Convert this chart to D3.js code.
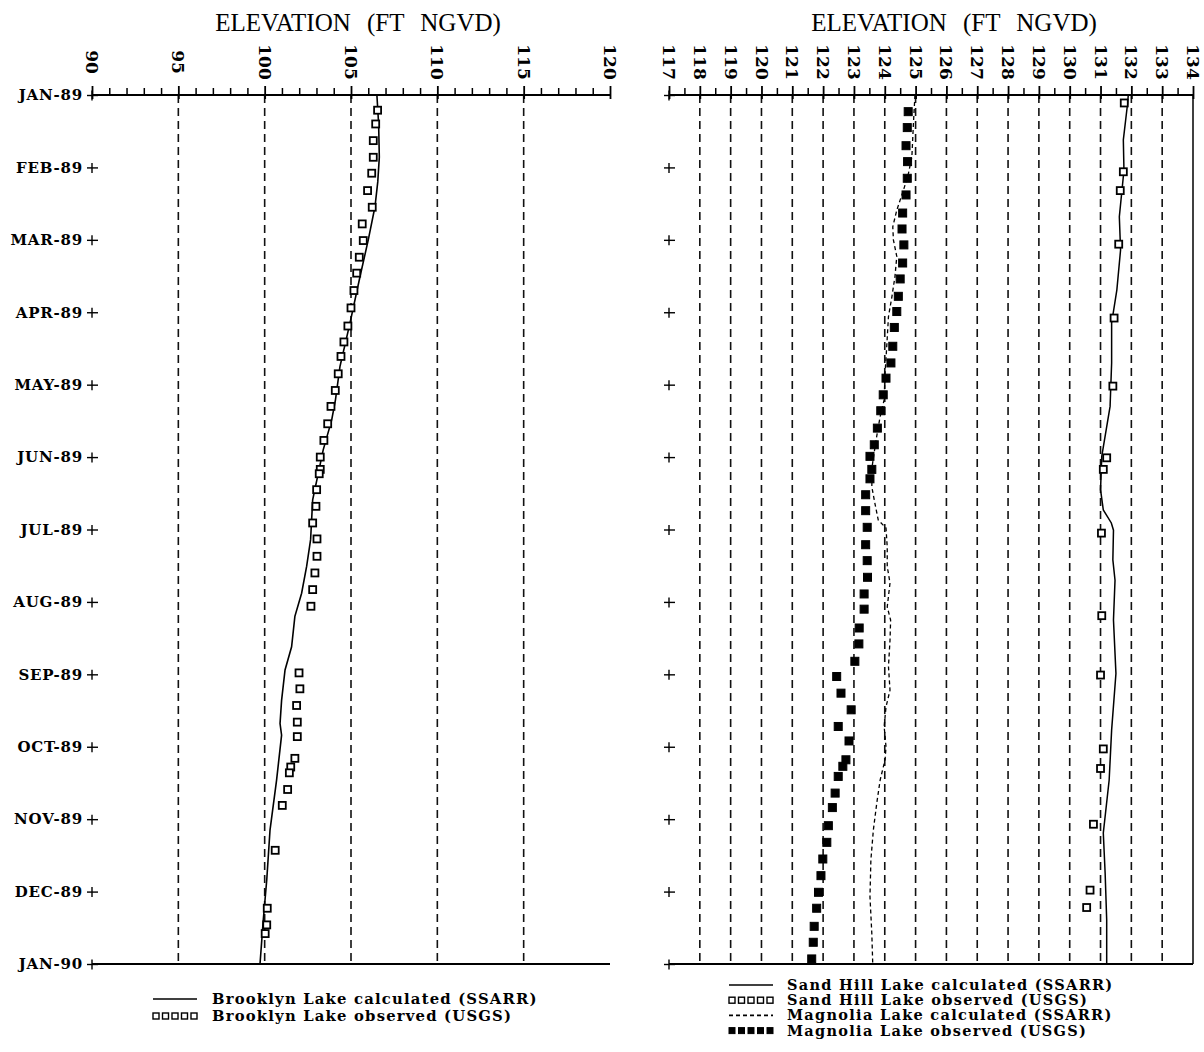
<!DOCTYPE html>
<html>
<head>
<meta charset="utf-8">
<script src="https://cdn.jsdelivr.net/npm/d3@7/dist/d3.min.js"></script>
<style>
body { margin: 0; background: #fff; }
</style>
</head>
<body>
<div id="chart"></div>
<script>
var width = 1204, height = 1052;

var months = ["JAN-89","FEB-89","MAR-89","APR-89","MAY-89","JUN-89","JUL-89",
              "AUG-89","SEP-89","OCT-89","NOV-89","DEC-89","JAN-90"];

var leftTicks = [90, 95, 100, 105, 110, 115, 120];
var leftGrid = [95, 100, 105, 110, 115];
var rightTicks = d3.range(117, 135);
var rightGrid = d3.range(118, 134);

// [month position, elevation ft]
var brooklynCalc = [[0,106.5],[0.4,106.6],[0.86,106.64],[1.2,106.55],[1.54,106.39],[2.0,106.0],[2.51,105.52],
  [3.15,104.94],[3.75,104.36],[4.21,104.1],[4.49,103.88],[4.9,103.39],[5.59,102.78],[6.14,102.66],[6.51,102.43],
  [6.88,102.14],[7.2,101.75],[7.62,101.56],[7.94,101.18],[8.36,100.98],[8.68,100.89],[8.84,100.98],[9.46,100.69],
  [10.15,100.31],[10.84,100.12],[11.39,99.92],[12,99.73]];

var brooklynObs = [[0.21,106.54],[0.4,106.43],[0.63,106.29],[0.86,106.29],[1.08,106.2],[1.32,105.96],[1.55,106.23],
  [1.78,105.65],[2.01,105.71],[2.24,105.48],[2.46,105.33],[2.7,105.17],[2.94,105.0],[3.19,104.82],[3.41,104.59],
  [3.61,104.42],[3.85,104.26],[4.08,104.09],[4.3,103.84],[4.54,103.65],[4.77,103.43],[5.0,103.22],[5.17,103.22],
  [5.23,103.16],[5.45,103.01],[5.68,102.97],[5.91,102.78],[6.13,103.03],[6.37,103.03],[6.6,102.91],[6.83,102.78],
  [7.06,102.68],[7.98,101.99],[8.2,102.04],[8.43,101.85],[8.66,101.89],[8.86,101.89],[9.16,101.75],[9.28,101.51],
  [9.36,101.43],[9.59,101.33],[9.81,101.02],[10.43,100.61],[11.23,100.15],[11.46,100.12],[11.58,100.03]];

var sandCalc = [[0,131.9],[0.11,131.88],[0.62,131.74],[1.04,131.76],[1.68,131.61],[2.14,131.65],[2.69,131.53],
  [3.15,131.36],[3.7,131.36],[4.3,131.31],[4.99,131.04],[5.45,131.0],[5.73,131.09],[5.91,131.35],[6.01,131.42],
  [6.42,131.4],[6.7,131.47],[7.25,131.42],[7.99,131.5],[8.77,131.36],[9.46,131.28],[10.19,131.09],[10.75,131.15],
  [11.39,131.2],[12,131.2]];

var sandObs = [[0.11,131.77],[1.06,131.74],[1.32,131.64],[2.06,131.59],[3.08,131.44],[4.02,131.4],[5.01,131.2],
  [5.17,131.09],[6.05,131.03],[7.19,131.04],[8.01,131.0],[9.03,131.09],[9.3,131.0],[10.07,130.77],[10.98,130.66],
  [11.22,130.55]];

var magCalc = [[0,124.98],[0.39,124.93],[0.85,124.88],[1.08,124.77],[1.31,124.61],[1.59,124.39],[1.82,124.26],
  [2.0,124.28],[2.23,124.39],[2.51,124.33],[2.79,124.23],[3.06,124.12],[3.43,124.07],[3.84,124.01],[4.21,123.98],
  [4.44,123.85],[4.76,123.72],[5.13,123.59],[5.41,123.58],[5.64,123.68],[5.87,123.79],[5.98,124.04],[6.24,124.08],
  [6.51,124.08],[6.74,124.17],[7.07,124.08],[7.25,124.19],[7.53,124.17],[7.89,124.12],[8.22,124.17],[8.45,124.04],
  [8.72,123.98],[9.0,124.04],[9.18,124.01],[9.46,123.85],[9.78,123.74],[10.15,123.63],[10.56,123.55],[11.07,123.52],
  [11.58,123.58],[12,123.61]];

var magObs = [[0.23,124.76],[0.45,124.73],[0.7,124.69],[0.92,124.74],[1.15,124.73],[1.38,124.69],[1.63,124.58],
  [1.85,124.56],[2.07,124.62],[2.32,124.58],[2.54,124.5],[2.78,124.44],[2.99,124.39],[3.21,124.31],[3.47,124.26],
  [3.7,124.2],[3.91,124.04],[4.14,123.95],[4.36,123.87],[4.6,123.76],[4.83,123.66],[4.99,123.52],[5.17,123.58],
  [5.3,123.52],[5.52,123.38],[5.74,123.38],[5.97,123.43],[6.21,123.38],[6.43,123.43],[6.66,123.44],[6.89,123.33],
  [7.1,123.33],[7.36,123.17],[7.58,123.16],[7.82,123.03],[8.03,122.44],[8.26,122.58],[8.49,122.91],[8.72,122.49],
  [8.92,122.84],[9.18,122.74],[9.27,122.64],[9.41,122.49],[9.64,122.39],[9.84,122.3],[10.09,122.17],[10.32,122.12],
  [10.55,121.99],[10.78,121.93],[11.01,121.85],[11.23,121.79],[11.48,121.71],[11.7,121.68],[11.93,121.63]];

var leftLegend = ["Brooklyn Lake calculated (SSARR)", "Brooklyn Lake observed (USGS)"];
var rightLegend = ["Sand Hill Lake calculated (SSARR)", "Sand Hill Lake observed (USGS)",
                   "Magnolia Lake calculated (SSARR)", "Magnolia Lake observed (USGS)"];

var labelFont = "'DejaVu Serif', serif";

var svg = d3.select("#chart").append("svg")
  .attr("width", width)
  .attr("height", height)
  .style("background", "#fff");

var y = d3.scaleLinear().domain([0, 12]).range([95, 964]);
var xL = d3.scaleLinear().domain([90, 120]).range([92, 610]);
var xR = d3.scaleLinear().domain([117, 134]).range([669, 1193]);

function drawPanel(x, majors, minorStep, grid, showMonths, rightBorder, titleX) {
  var g = svg.append("g");
  var x0 = x.range()[0], x1 = x.range()[1];
  var top = y(0), bot = y(12);

  // dashed grid lines
  g.selectAll(".grid").data(grid).enter().append("line")
    .attr("x1", function(d) { return x(d); })
    .attr("x2", function(d) { return x(d); })
    .attr("y1", top).attr("y2", bot)
    .attr("stroke", "#111").attr("stroke-width", 1.6)
    .attr("stroke-dasharray", "8,5");

  // frame
  g.append("line").attr("x1", x0).attr("x2", x1).attr("y1", top).attr("y2", top)
    .attr("stroke", "#000").attr("stroke-width", 2);
  g.append("line").attr("x1", x0).attr("x2", x1).attr("y1", bot).attr("y2", bot)
    .attr("stroke", "#000").attr("stroke-width", 2);
  if (rightBorder) {
    g.append("line").attr("x1", x1).attr("x2", x1).attr("y1", top).attr("y2", bot)
      .attr("stroke", "#000").attr("stroke-width", 1.5);
  }

  // minor ticks on top axis
  var minors = d3.range(x.domain()[0], x.domain()[1] + 0.001, minorStep)
    .filter(function(v) { return majors.indexOf(v) < 0; });
  var minorAxis = g.append("g").attr("transform", "translate(0," + top + ")")
    .call(d3.axisTop(x).tickValues(minors).tickSize(7).tickFormat(""));
  minorAxis.select(".domain").remove();
  minorAxis.selectAll("line").attr("stroke-width", 1.5);

  var majorAxis = g.append("g").attr("transform", "translate(0," + top + ")")
    .call(d3.axisTop(x).tickValues(majors).tickSize(9).tickFormat(""));
  majorAxis.select(".domain").remove();
  majorAxis.selectAll("line").attr("y1", 4).attr("stroke-width", 1.8);

  // rotated tick labels
  g.selectAll(".tl").data(majors).enter().append("text")
    .attr("transform", function(d) { return "translate(" + x(d) + ",62) rotate(90)"; })
    .attr("text-anchor", "middle")
    .attr("dy", "0.35em")
    .style("font-family", labelFont)
    .style("font-weight", "bold")
    .style("font-size", "17px")
    .text(function(d) { return d; });

  // month axis: cross-shaped tick marks
  var yAxis = d3.axisLeft(y).tickValues(d3.range(13))
    .tickSize(5).tickPadding(4)
    .tickFormat(function(i) { return showMonths ? months[i] : ""; });
  var ya = g.append("g").attr("transform", "translate(" + x0 + ",0)").call(yAxis);
  ya.select(".domain").remove();
  ya.selectAll("line").attr("x2", -5).attr("x1", 6).attr("stroke-width", 1.4);
  ya.selectAll(".tick").append("line")
    .attr("x1", 0).attr("x2", 0).attr("y1", -5).attr("y2", 5)
    .attr("stroke", "#000").attr("stroke-width", 1.4);
  ya.selectAll("text")
    .style("font-family", labelFont)
    .style("font-weight", "bold")
    .style("font-size", "15px")
    .style("letter-spacing", "0.8px");

  // title
  svg.append("text")
    .attr("x", titleX).attr("y", 31)
    .attr("text-anchor", "middle")
    .style("font-family", "'Liberation Serif', 'Times New Roman', serif")
    .style("font-size", "25px")
    .style("word-spacing", "10px")
    .text("ELEVATION (FT NGVD)");
  return g;
}

var lineGen = function(x) {
  return d3.line().x(function(d) { return x(d[1]); }).y(function(d) { return y(d[0]); });
};

function drawLine(g, x, data, dash, w) {
  g.append("path").datum(data)
    .attr("d", lineGen(x))
    .attr("fill", "none").attr("stroke", "#000")
    .attr("stroke-width", w)
    .attr("stroke-dasharray", dash);
}

function drawSquares(g, x, data, filled, s) {
  g.selectAll(null).data(data).enter().append("rect")
    .attr("x", function(d) { return x(d[1]) - s / 2; })
    .attr("y", function(d) { return y(d[0]) - s / 2; })
    .attr("width", s).attr("height", s)
    .attr("fill", filled ? "#000" : "#fff")
    .attr("stroke", "#000")
    .attr("stroke-width", filled ? 1 : 1.8);
}

var gl = drawPanel(xL, leftTicks, 1, leftGrid, true, false, 358);
drawLine(gl, xL, brooklynCalc, null, 1.6);
drawSquares(gl, xL, brooklynObs, false, 7);

var gr = drawPanel(xR, rightTicks, 0.5, rightGrid, false, true, 954);
drawLine(gr, xR, sandCalc, null, 1.5);
drawLine(gr, xR, magCalc, "4,3", 1.3);
drawSquares(gr, xR, sandObs, false, 7);
drawSquares(gr, xR, magObs, true, 8);

// legends
function legend(x0, textX, baseY, step, items, kinds, fs, ls) {
  var lg = svg.append("g");
  items.forEach(function(label, i) {
    var yy = baseY + i * step;
    var k = kinds[i];
    var cy = yy - 5;
    if (k === "line" || k === "dash") {
      lg.append("line").attr("x1", x0).attr("x2", x0 + 44).attr("y1", cy).attr("y2", cy)
        .attr("stroke", "#000").attr("stroke-width", 1.6)
        .attr("stroke-dasharray", k === "dash" ? "4,3" : null);
    } else {
      d3.range(5).forEach(function(j) {
        lg.append("rect").attr("x", x0 + j * 9.5).attr("y", cy - 3)
          .attr("width", 6).attr("height", 6)
          .attr("fill", k === "fill" ? "#000" : "#fff")
          .attr("stroke", "#000").attr("stroke-width", k === "fill" ? 1 : 1.4);
      });
    }
    lg.append("text").attr("x", textX).attr("y", yy)
      .style("font-family", labelFont)
      .style("font-weight", "bold")
      .style("font-size", fs + "px")
      .style("letter-spacing", ls + "px")
      .text(label);
  });
}

legend(153, 212, 1004, 17, leftLegend, ["line", "open"], 14.8, 1.2);
legend(729, 787, 990, 15.2, rightLegend, ["line", "open", "dash", "fill"], 14.5, 1.3);
</script>
</body>
</html>
